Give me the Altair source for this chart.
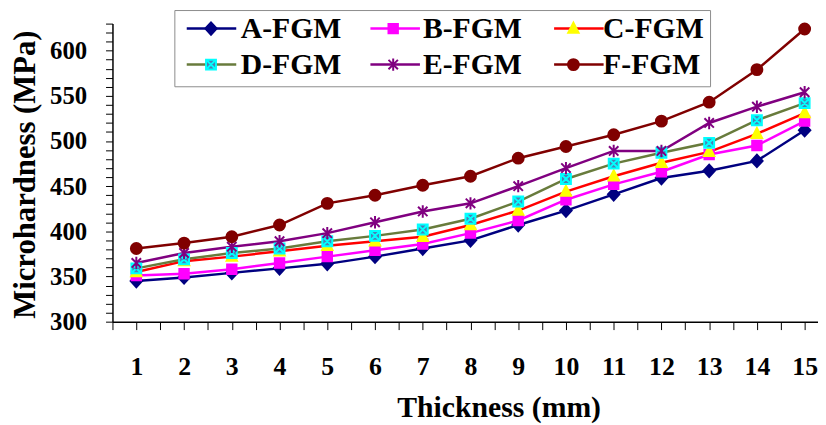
import altair as alt
import pandas as pd

# ---------------- data ----------------
thickness = list(range(1, 16))
series_names = ["A-FGM", "B-FGM", "C-FGM", "D-FGM", "E-FGM", "F-FGM"]
a_fgm = [345, 349, 354, 359, 364, 372, 381, 390, 407, 423, 441, 459, 467, 478, 512]
b_fgm = [351, 353, 358, 365, 372, 379, 386, 398, 412, 435, 452, 466, 485, 495, 522]
c_fgm = [355, 367, 372, 378, 384, 389, 394, 407, 423, 444, 461, 476, 488, 508, 531]
d_fgm = [359, 369, 376, 381, 389, 395, 402, 414, 433, 458, 475, 487, 498, 523, 542]
e_fgm = [365, 376, 383, 389, 398, 410, 422, 431, 450, 470, 489, 489, 520, 538, 554]
f_fgm = [381, 387, 394, 407, 431, 440, 451, 461, 481, 494, 507, 522, 543, 579, 624]
x_tick_values = [i * 0.5 for i in range(1, 31)]      # ticks at categories and between
y_tick_values = list(range(300, 631, 10))             # minor every 10, labels every 50

values = [a_fgm, b_fgm, c_fgm, d_fgm, e_fgm, f_fgm]
rows = []
for name, vals in zip(series_names, values):
    for t, v in zip(thickness, vals):
        rows.append({"series": name, "t": t, "v": v})
df = pd.DataFrame(rows)

# ---------------- styles ----------------
FONT = "Liberation Serif"
line_colors = ["#000080", "#FF00FF", "#FF0000", "#687B3C", "#800080", "#800000"]
marker_fill = ["#000080", "#FF00FF", "#FFFF00", "#4A7FB5", "transparent", "#800000"]
marker_stroke = ["#000080", "#FF00FF", "#FFFF00", "#00FFFF", "#800080", "#800000"]
k = 0.22 * 0.5523
circle = (f"M0.22,0C0.22,{k} {k},0.22 0,0.22C-{k},0.22 -0.22,{k} -0.22,0"
          f"C-0.22,-{k} -{k},-0.22 0,-0.22C{k},-0.22 0.22,-{k} 0.22,0Z")
marker_shapes = [
    "M0,-0.25L0.23,0L0,0.25L-0.23,0Z",
    "M-0.19,-0.19H0.19V0.19H-0.19Z",
    "M0,-0.24L0.21,0.17L-0.21,0.17Z",
    "M-0.2,-0.2H0.2V0.2H-0.2Z M-0.2,-0.2L0.2,0.2 M-0.2,0.2L0.2,-0.2",
    "M-0.19,-0.19L0.19,0.19M-0.19,0.19L0.19,-0.19M0,-0.25V0.25",
    circle,
]

legend_common = dict(
    orient="none", legendX=62.5, legendY=-13.7, columns=3, direction="horizontal",
    title=None, symbolSize=2500, padding=6, clipHeight=25, rowPadding=5.6,
    labelOffset=4, symbolOffset=5,
    labelFont=FONT, labelFontSize=30, labelFontWeight="bold",
    labelColor="black", labelLimit=400,
)

x_enc = alt.X(
    "t:Q",
    scale=alt.Scale(domain=[0.5, 15.28], nice=False, zero=False),
    axis=alt.Axis(
        values=x_tick_values, tickCount=200,
        labelExpr="datum.value % 1 == 0 ? format(datum.value, 'd') : ''",
        title="Thickness (mm)", grid=False, tickSize=8, tickColor="black",
        domainColor="black", domainWidth=1.5, labelPadding=24,
        labelFlush=False, labelOverlap=False, labelFont=FONT, labelFontSize=26,
        labelFontWeight="bold", labelColor="black",
        titleFont=FONT, titleFontSize=30, titleFontWeight="bold", titleColor="black",
        titleX=390, titleY=96, titleAlign="center", titleBaseline="alphabetic",
    ),
)
y_enc = alt.Y(
    "v:Q",
    scale=alt.Scale(domain=[300, 630], nice=False, zero=False),
    axis=alt.Axis(
        values=y_tick_values, tickCount=200,
        labelExpr="datum.value % 50 == 0 ? format(datum.value, 'd') : ''",
        title="Microhardness (MPa)", grid=False, tickSize=7, tickColor="black",
        domainColor="black", domainWidth=1.5, labelPadding=19,
        labelFlush=False, labelOverlap=False, labelFont=FONT, labelFontSize=25,
        labelFontWeight="bold", labelColor="black",
        titleFont=FONT, titleFontSize=31, titleFontWeight="bold", titleColor="black",
        titleX=-78.5, titleY=152, titleAlign="center", titleBaseline="alphabetic",
        titleAngle=270,
    ),
)

# line-segment part of the legend (no label text; markers legend carries labels)
lines = alt.Chart(df).mark_line(strokeWidth=2.5).encode(
    x=x_enc, y=y_enc,
    stroke=alt.Stroke(
        "series:N",
        scale=alt.Scale(domain=series_names, range=line_colors),
        legend=alt.Legend(symbolStrokeWidth=2.5, labelExpr="''", columnPadding=123.5,
                          **legend_common),
    ),
    detail="series:N",
)

marker_legend = alt.Legend(symbolStrokeWidth=2, strokeColor="#8C8C8C",
                           labelExpr="datum.label + ' '", columnPadding=21,
                           **legend_common)
points = alt.Chart(df).mark_point(filled=True, opacity=1, size=2500, strokeWidth=2).encode(
    x=alt.X("t:Q"), y=alt.Y("v:Q"),
    fill=alt.Fill("series:N", scale=alt.Scale(domain=series_names, range=marker_fill),
                  legend=marker_legend),
    stroke=alt.Stroke("series:N", scale=alt.Scale(domain=series_names, range=marker_stroke),
                      legend=marker_legend),
    shape=alt.Shape("series:N", scale=alt.Scale(domain=series_names, range=marker_shapes),
                    legend=marker_legend),
)

chart = alt.layer(lines, points).resolve_scale(
    stroke="independent", fill="independent", shape="independent"
).properties(
    width=712.5, height=301,
    autosize=alt.AutoSizeParams(type="none"),
    padding={"left": 105.5, "top": 13.7, "right": 0, "bottom": 102.3},
    background="white",
).configure_view(stroke=None)

chart.save("out.html", embed_options={"renderer": "svg", "actions": False})
